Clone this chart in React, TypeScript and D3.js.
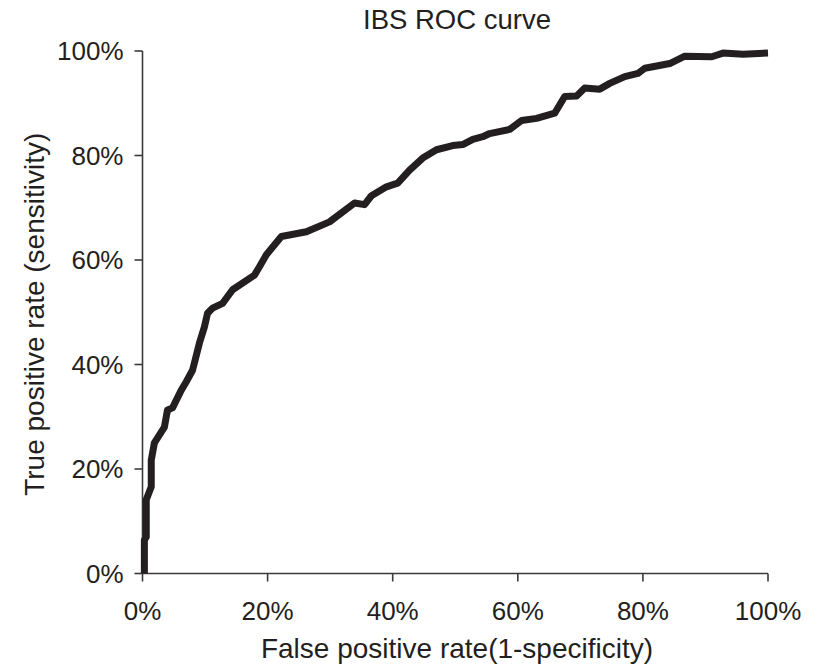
import React from "react";
import * as d3 from "d3";

// ROC curve points (false positive rate, true positive rate)
const fprValues = [
  0.003, 0.003, 0.006, 0.006, 0.014, 0.014, 0.019, 0.035, 0.040, 0.048, 0.062, 0.070, 0.080,
  0.091, 0.099, 0.104, 0.112, 0.128, 0.144, 0.179, 0.187, 0.198, 0.222, 0.262, 0.299,
  0.339, 0.355, 0.366, 0.390, 0.408, 0.427, 0.448, 0.470, 0.496, 0.512, 0.528, 0.544,
  0.555, 0.587, 0.606, 0.630, 0.659, 0.675, 0.694, 0.707, 0.731, 0.747, 0.771, 0.792,
  0.803, 0.843, 0.867, 0.910, 0.928, 0.960, 1.0,
];
const tprValues = [
  0.0, 0.064, 0.07, 0.141, 0.166, 0.217, 0.250, 0.280, 0.313, 0.317, 0.351, 0.367, 0.389,
  0.441, 0.472, 0.498, 0.508, 0.517, 0.543, 0.571, 0.587, 0.610, 0.645, 0.654, 0.673,
  0.709, 0.706, 0.723, 0.740, 0.747, 0.772, 0.795, 0.811, 0.819, 0.821, 0.831, 0.836,
  0.842, 0.850, 0.867, 0.871, 0.881, 0.913, 0.914, 0.929, 0.927, 0.938, 0.951, 0.957,
  0.967, 0.976, 0.990, 0.989, 0.996, 0.994, 0.996,
];
const tickValues = [0, 0.2, 0.4, 0.6, 0.8, 1.0];
const tickLabels = ["0%", "20%", "40%", "60%", "80%", "100%"];

const title = "IBS ROC curve";
const xTitle = "False positive rate(1-specificity)";
const yTitle = "True positive rate (sensitivity)";

const W = 819;
const H = 666;
const M = { left: 142.5, right: 51, top: 51, bottom: 92.5 };
const font = "'Liberation Sans', Arial, Helvetica, sans-serif";
const ink = "#231f20";

export default function App() {
  const x = d3.scaleLinear().domain([0, 1]).range([M.left, W - M.right]);
  const y = d3.scaleLinear().domain([0, 1]).range([H - M.bottom, M.top]);
  const pts: [number, number][] = fprValues.map((f, i) => [f, tprValues[i]]);
  const line = d3
    .line<[number, number]>()
    .x((d) => x(d[0]))
    .y((d) => y(d[1]));
  const x0 = x(0);
  const y0 = y(0);
  return (
    <svg
      width={W}
      height={H}
      style={{ position: "absolute", left: 0, top: 0, background: "#fff" }}
      fontFamily={font}
    >
      <rect width={W} height={H} fill="#fff" />
      <text x={457} y={29} textAnchor="middle" fontSize={27.5} fill={ink}>
        {title}
      </text>
      {/* Y axis */}
      <line x1={x0} x2={x0} y1={y(1)} y2={y0} stroke="#3a3a3a" strokeWidth={1.6} />
      {tickValues.map((t, i) => (
        <g key={"y" + i}>
          <line x1={x0 - 8} x2={x0} y1={y(t)} y2={y(t)} stroke="#3a3a3a" strokeWidth={1.6} />
          <text
            x={x0 - 19}
            y={y(t)}
            dy="0.36em"
            textAnchor="end"
            fontSize={26}
            fill={ink}
          >
            {tickLabels[i]}
          </text>
        </g>
      ))}
      {/* X axis */}
      <line x1={x0} x2={x(1)} y1={y0} y2={y0} stroke="#3a3a3a" strokeWidth={1.6} />
      {tickValues.map((t, i) => (
        <g key={"x" + i}>
          <line x1={x(t)} x2={x(t)} y1={y0} y2={y0 + 8} stroke="#3a3a3a" strokeWidth={1.6} />
          <text x={x(t)} y={y0 + 46} textAnchor="middle" fontSize={26} fill={ink}>
            {tickLabels[i]}
          </text>
        </g>
      ))}
      <text x={457} y={658} textAnchor="middle" fontSize={28} fill={ink}>
        {xTitle}
      </text>
      <text
        transform={`translate(44,${(y(0) + y(1)) / 2 + 2}) rotate(-90)`}
        textAnchor="middle"
        fontSize={28}
        fill={ink}
      >
        {yTitle}
      </text>
      <path
        d={line(pts) || ""}
        fill="none"
        stroke={ink}
        strokeWidth={7}
        strokeLinejoin="round"
        strokeLinecap="butt"
      />
    </svg>
  );
}
